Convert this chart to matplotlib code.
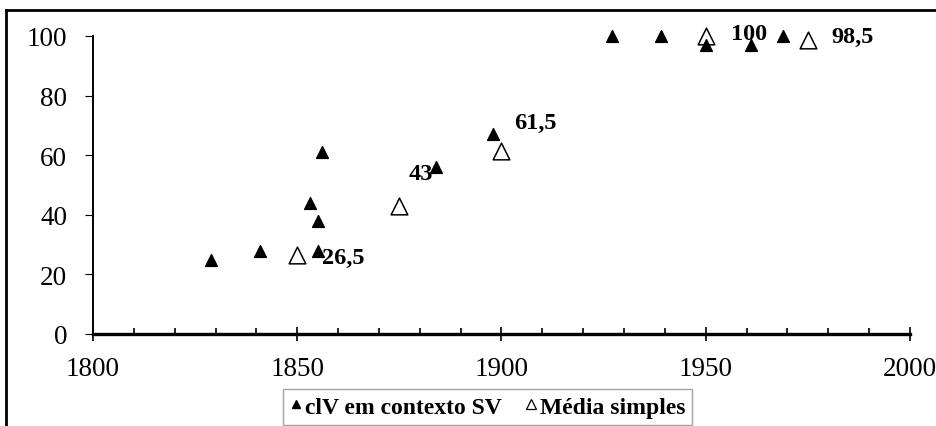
import matplotlib.pyplot as plt
from matplotlib.lines import Line2D
from matplotlib.ticker import MultipleLocator

# dados
sv_years = [1829, 1841, 1853, 1855, 1855, 1856, 1884, 1898, 1927, 1939, 1950, 1961, 1969]
sv_vals = [25, 28, 44, 38, 28, 61, 56, 67, 100, 100, 97, 97, 100]
mean_years = [1850, 1875, 1900, 1950, 1975]
mean_vals = [26.5, 43, 61.5, 100, 98.5]
label_offsets = [(18, -1.5), (6.5, 23), (9.4, 20), (18, 2), (17, 3)]

plt.rcParams['font.family'] = ['Liberation Serif', 'DejaVu Serif']

fig = plt.figure(figsize=(9.37, 4.27), dpi=100)
ax = fig.add_axes([93 / 937, 1 - 335 / 427, (910 - 93) / 937, (335 - 37) / 427])

# média simples (triângulo aberto) e rótulos
ax.scatter(mean_years, mean_vals, marker='^', s=12 ** 2, facecolor='white',
           edgecolor='black', linewidth=1.1, zorder=3, label='Média simples', clip_on=False)
for x, y, off in zip(mean_years, mean_vals, label_offsets):
    txt = '{:g}'.format(y).replace('.', ',')
    ax.annotate(txt, (x, y), xytext=off, textcoords='offset points',
                ha='left', va='center', fontsize=17.5, fontweight='bold', zorder=4)

# clV em contexto SV (triângulo cheio)
ax.scatter(sv_years, sv_vals, marker='^', s=8.5 ** 2, color='black',
           zorder=5, label='clV em contexto SV', clip_on=False)

ax.set_xlim(1800, 2000)
ax.set_ylim(0, 100)
ax.xaxis.set_major_locator(MultipleLocator(50))
ax.xaxis.set_minor_locator(MultipleLocator(10))
ax.yaxis.set_major_locator(MultipleLocator(20))

for s in ['top', 'right']:
    ax.spines[s].set_visible(False)
ax.spines['bottom'].set_linewidth(2.4)
ax.spines['left'].set_linewidth(1.4)

ax.tick_params(axis='x', which='major', direction='inout', length=10, width=1.2,
               labelsize=19.5, pad=10.5)
ax.tick_params(axis='x', which='minor', direction='in', length=4.5, width=1.2)
ax.tick_params(axis='y', direction='out', length=6, width=0.8, labelsize=19.5, pad=12.5)

# legenda
h_sv = Line2D([], [], marker='^', linestyle='none', color='black', markersize=5.5)
h_mean = Line2D([], [], marker='^', linestyle='none', markerfacecolor='white',
                markeredgecolor='black', markersize=7.5, markeredgewidth=0.9)
leg = fig.legend([h_sv, h_mean], ['clV em contexto SV', 'Média simples'],
                 loc='upper left', bbox_to_anchor=(283 / 937, 1 - 390 / 427),
                 ncol=2, frameon=True, fancybox=False, edgecolor='#8c8c8c',
                 prop={'size': 17, 'weight': 'bold'}, handlelength=0.5,
                 handletextpad=0.12, columnspacing=1.0, borderpad=0.3,
                 borderaxespad=0)
leg.get_frame().set_linewidth(1.0)

# moldura da figura (cortada à direita e embaixo)
fig.add_artist(Line2D([6 / 937, 1.01], [1 - 11 / 427, 1 - 11 / 427], color='black', lw=2))
fig.add_artist(Line2D([6 / 937, 6 / 937], [1 - 11 / 427, -0.01], color='black', lw=2))

fig.savefig('out.png', dpi=100)
